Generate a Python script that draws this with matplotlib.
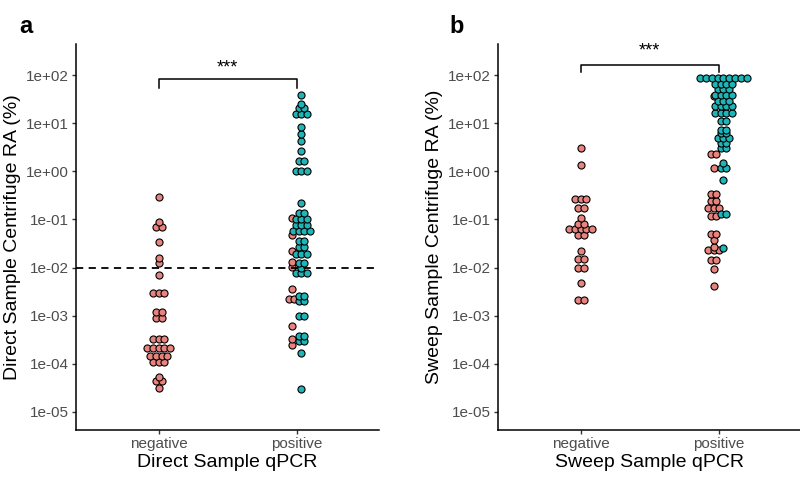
import matplotlib
matplotlib.use('Agg')
import matplotlib.pyplot as plt
import numpy as np

plt.rcParams['font.family'] = ['Liberation Sans', 'DejaVu Sans']

categories = ['negative', 'positive']

# Direct sample: RA (%) values, red = negative fill group, teal = positive fill group
direct_neg_red = [0.288, 0.0871, 0.0710, 0.0710, 0.0335, 0.0159, 0.0127, 0.00716,
                  0.00293, 0.00293, 0.00293, 0.00118, 0.00118, 0.000904, 0.000904,
                  0.000332, 0.000332, 0.000332,
                  0.000216, 0.000216, 0.000216, 0.000216, 0.000216,
                  0.000143, 0.000143, 0.000143, 0.000143,
                  0.000107, 0.000107, 0.000107,
                  5.30e-5, 4.32e-5, 4.32e-5, 3.19e-5]
direct_pos_red = [0.107, 0.0484, 0.0220, 0.0133, 0.0105, 0.00366, 0.00222, 0.00222,
                  0.000611, 0.000329, 0.000247]
direct_pos_teal = [38.8, 25.6, 20.6, 20.6, 15.9, 15.9, 15.9, 8.15, 5.94, 4.26, 2.59,
                   1.62, 1.62, 1.00, 1.00, 1.00,
                   0.218, 0.134, 0.134, 0.101, 0.101, 0.101, 0.0780, 0.0780, 0.0780,
                   0.0586, 0.0586, 0.0586, 0.0586, 0.0363, 0.0363, 0.0266, 0.0266,
                   0.0192, 0.0192, 0.0192, 0.0124, 0.0124, 0.0100,
                   0.00769, 0.00769, 0.00769, 0.00262, 0.00262, 0.00207, 0.00207,
                   0.00101, 0.00101, 0.000388, 0.000388, 0.000292, 0.000292,
                   0.000167, 2.94e-5]

# Sweep sample
sweep_neg_red = [3.07, 1.36, 0.267, 0.267, 0.267, 0.174, 0.174, 0.108, 0.0818, 0.0818,
                 0.0631, 0.0631, 0.0631, 0.0631, 0.0631, 0.0484, 0.0484, 0.0218,
                 0.0152, 0.0152, 0.00986, 0.00986, 0.00481, 0.00216, 0.00216]
sweep_pos_red = [37.4, 2.33, 2.33, 1.18, 0.344, 0.344, 0.247, 0.247, 0.174, 0.174, 0.174,
                 0.116, 0.116, 0.0497, 0.0497, 0.0382, 0.0269, 0.0229, 0.0229, 0.0229,
                 0.0147, 0.0147, 0.00940, 0.00409]
sweep_pos_teal = [87.3, 87.3, 87.3, 87.3, 87.3, 87.3, 87.3, 87.3, 87.3,
                  66.4, 66.4, 66.4, 66.4, 51.5, 51.5, 51.5, 39.3, 39.3, 39.3, 39.3,
                  29.4, 29.4, 29.4, 22.4, 22.4, 22.4, 22.4, 16.4, 16.4, 16.4, 16.4,
                  10.9, 10.9, 7.36, 7.36, 6.28, 6.28, 4.94, 4.94, 4.94, 3.89, 3.89,
                  3.01, 3.01, 1.50, 1.18, 1.18, 0.673, 0.128, 0.128, 0.0252]

RED = '#E8837E'
TEAL = '#1DB5B8'


def draw_swarm(ax, center, values, color, step_px=5.8):
    # equal values are laid out side by side in a row centred on the group
    p0 = ax.transData.transform((0, 1))
    p1 = ax.transData.transform((1, 1))
    step = step_px / (p1[0] - p0[0])
    vals = np.asarray(values)
    xs, ys = [], []
    for v in np.unique(vals):
        n = int(np.sum(vals == v))
        offs = (np.arange(n) - (n - 1) / 2) * step
        xs += list(center + offs)
        ys += [v] * n
    ax.scatter(xs, ys, s=26, c=color, edgecolors='black', linewidths=0.8, zorder=3)


def setup_axes(ax, xlabel, ylabel):
    ax.set_yscale('log')
    ax.set_xlim(-0.6, 1.6)
    ax.set_ylim(10 ** -5.374, 10 ** 2.644)
    ax.set_xticks([0, 1])
    ax.set_xticklabels(categories)
    yt = [10.0 ** k for k in range(-5, 3)]
    ax.set_yticks(yt)
    ax.set_yticklabels([f'{v:.0e}' for v in yt])
    ax.minorticks_off()
    ax.spines['top'].set_visible(False)
    ax.spines['right'].set_visible(False)
    for s in ['left', 'bottom']:
        ax.spines[s].set_linewidth(1.1)
    ax.tick_params(length=3, width=1, color='#333333', labelcolor='#4D4D4D',
                   labelsize=11, pad=2)
    ax.set_xlabel(xlabel, fontsize=14, labelpad=2)
    ax.set_ylabel(ylabel, fontsize=14, labelpad=4)


fig = plt.figure(figsize=(8, 4.79), dpi=100)
ax1 = fig.add_axes([0.095, 0.1023, 0.379, 0.8057])
ax2 = fig.add_axes([0.6225, 0.1023, 0.379, 0.8057])

setup_axes(ax1, 'Direct Sample qPCR', 'Direct Sample Centrifuge RA (%)')
setup_axes(ax2, 'Sweep Sample qPCR', 'Sweep Sample Centrifuge RA (%)')

dodge = 0.036
draw_swarm(ax1, 0, direct_neg_red, RED)
draw_swarm(ax1, 1 - dodge, direct_pos_red, RED)
draw_swarm(ax1, 1 + dodge, direct_pos_teal, TEAL)
ax1.axhline(0.01, color='black', lw=1.3, ls=(0, (4, 3)), zorder=4)

draw_swarm(ax2, 0, sweep_neg_red, RED)
draw_swarm(ax2, 1 - dodge, sweep_pos_red, RED)
draw_swarm(ax2, 1 + dodge, sweep_pos_teal, TEAL)

# significance brackets
ax1.plot([0, 0, 1, 1], [10 ** 1.722, 10 ** 1.909, 10 ** 1.909, 10 ** 1.722],
         color='black', lw=1.1)
ax1.text(0.5, 10 ** 2.15, '***', ha='center', va='center', fontsize=13)
ax2.plot([0, 0, 1, 1], [10 ** 2.065, 10 ** 2.217, 10 ** 2.217, 10 ** 2.065],
         color='black', lw=1.1, clip_on=False)
ax2.text(0.5, 10 ** 2.49, '***', ha='center', va='center', fontsize=13)

fig.text(0.0325, 0.944, 'a', fontsize=17, fontweight='bold', ha='center', va='center')
fig.text(0.571, 0.944, 'b', fontsize=17, fontweight='bold', ha='center', va='center')

fig.savefig('out.png', dpi=100)
